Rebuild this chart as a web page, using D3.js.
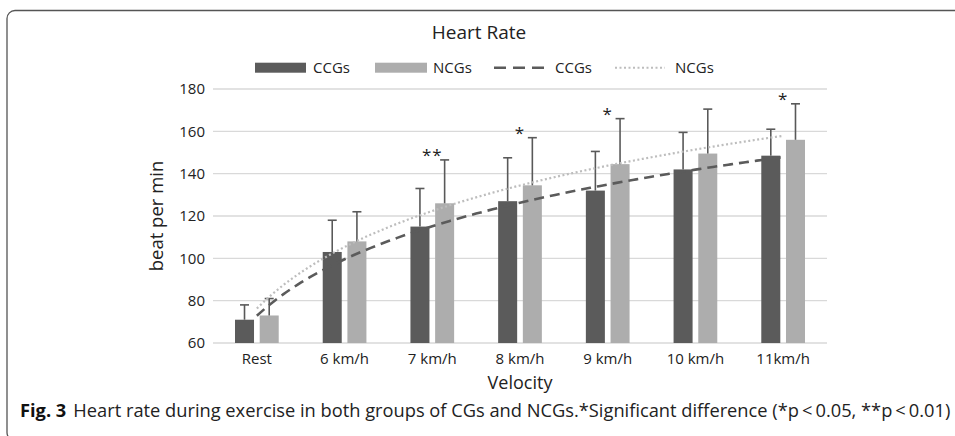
<!DOCTYPE html>
<html>
<head>
<meta charset="utf-8">
<script src="https://cdn.jsdelivr.net/npm/d3@7"></script>
<style>
  body { margin: 0; background: #fff; }
  text { font-family: "Open Sans", sans-serif; fill: #222; }
</style>
</head>
<body>
<svg id="chart" width="955" height="436"></svg>
<script>
// data
const categories = ['Rest', '6 km/h', '7 km/h', '8 km/h', '9 km/h', '10 km/h', '11km/h'];
const groups = ['CCGs', 'NCGs'];
const ccgMean = [71, 103, 115, 127, 132, 142, 148.5];
const ccgSd = [7, 15, 18, 20.5, 18.5, 17.5, 12.5];
const ncgMean = [73, 108, 126, 134.5, 144.5, 149.5, 156];
const ncgSd = [8, 14, 20.5, 22.5, 21.5, 21, 17];
const stars = ['', '', '**', '*', '*', '', '*'];
const yTicks = [60, 80, 100, 120, 140, 160, 180];

const colors = { CCGs: '#5b5b5b', NCGs: '#adadad' };

const svg = d3.select('#chart');
const margin = { top: 89, right: 128, bottom: 93, left: 213 };
const width = 955 - margin.left - margin.right;
const height = 436 - margin.top - margin.bottom;

// frame round the figure
svg.append('rect')
  .attr('x', 7).attr('y', 10.5)
  .attr('width', 1000).attr('height', 430)
  .attr('rx', 8)
  .attr('fill', 'none')
  .attr('stroke', '#555')
  .attr('stroke-width', 1.3);

const g = svg.append('g').attr('transform', `translate(${margin.left},${margin.top})`);

// scales
const x = d3.scaleBand().domain(categories).range([0, width]);
const xIn = d3.scaleBand().domain(groups)
  .range([x.bandwidth() / 2 - 21.85, x.bandwidth() / 2 + 21.85])
  .paddingInner(0.23);
const y = d3.scaleLinear().domain([60, 180]).range([height, 0]);

// gridlines
g.append('g')
  .selectAll('line')
  .data(yTicks)
  .join('line')
  .attr('x1', 0).attr('x2', width)
  .attr('y1', d => y(d)).attr('y2', d => y(d))
  .attr('stroke', '#d9d9d9')
  .attr('stroke-width', 1.4);

// y axis labels
const yAxis = d3.axisLeft(y).tickValues(yTicks).tickSize(0).tickPadding(8);
g.append('g').call(yAxis)
  .call(s => s.select('.domain').remove())
  .selectAll('text')
  .attr('font-size', 15)
  .attr('font-family', '"Open Sans", sans-serif')
  .attr('fill', '#222');

// x axis labels
const xAxis = d3.axisBottom(x).tickSize(0).tickPadding(10);
g.append('g').attr('transform', `translate(0,${height})`).call(xAxis)
  .call(s => s.select('.domain').remove())
  .selectAll('text')
  .attr('font-size', 15)
  .attr('font-family', '"Open Sans", sans-serif')
  .attr('fill', '#222');

// bars
const rows = categories.map((c, i) => ({
  cat: c,
  vals: [
    { key: 'CCGs', mean: ccgMean[i], sd: ccgSd[i] },
    { key: 'NCGs', mean: ncgMean[i], sd: ncgSd[i] }
  ],
  star: stars[i]
}));

const grp = g.selectAll('.grp')
  .data(rows)
  .join('g')
  .attr('class', 'grp')
  .attr('transform', d => `translate(${x(d.cat)},0)`);

grp.selectAll('rect')
  .data(d => d.vals)
  .join('rect')
  .attr('x', d => xIn(d.key))
  .attr('width', xIn.bandwidth())
  .attr('y', d => y(d.mean))
  .attr('height', d => y(60) - y(d.mean))
  .attr('fill', d => colors[d.key]);

// error bars (upper only)
const err = grp.selectAll('.err')
  .data(d => d.vals)
  .join('g')
  .attr('class', 'err')
  .attr('stroke', '#595959')
  .attr('stroke-width', 1.6);
err.append('line')
  .attr('x1', d => xIn(d.key) + xIn.bandwidth() / 2)
  .attr('x2', d => xIn(d.key) + xIn.bandwidth() / 2)
  .attr('y1', d => y(d.mean))
  .attr('y2', d => y(d.mean + d.sd));
err.append('line')
  .attr('x1', d => xIn(d.key) + xIn.bandwidth() / 2 - 4.5)
  .attr('x2', d => xIn(d.key) + xIn.bandwidth() / 2 + 4.5)
  .attr('y1', d => y(d.mean + d.sd))
  .attr('y2', d => y(d.mean + d.sd));

// significance marks
grp.filter(d => d.star)
  .append('text')
  .attr('x', x.bandwidth() / 2)
  .attr('y', d => y(d3.max(d.vals, v => v.mean + v.sd)) + 1)
  .attr('text-anchor', 'middle')
  .attr('font-size', 17)
  .attr('letter-spacing', 1)
  .text(d => d.star);

// logarithmic trendlines fitted to the means (like Excel's)
function logFit(vals) {
  const lx = vals.map((v, i) => Math.log(i + 1));
  const mx = d3.mean(lx), my = d3.mean(vals);
  const a = d3.sum(lx, (l, i) => (l - mx) * (vals[i] - my)) / d3.sum(lx, l => (l - mx) ** 2);
  const b = my - a * mx;
  return t => a * Math.log(t) + b;
}
const xPos = d3.scaleLinear().domain([1, categories.length])
  .range([x(categories[0]) + x.bandwidth() / 2, x(categories[categories.length - 1]) + x.bandwidth() / 2]);
const ts = d3.range(1, categories.length + 0.001, 0.1);
const line = d3.line().x(d => xPos(d[0])).y(d => y(d[1])).curve(d3.curveMonotoneX);

const fitN = logFit(ncgMean);
g.append('path')
  .attr('d', line(ts.map(t => [t, fitN(t)])))
  .attr('fill', 'none')
  .attr('stroke', '#bdbdbd')
  .attr('stroke-width', 2.2)
  .attr('stroke-dasharray', '2,2.5');

const fitC = logFit(ccgMean);
g.append('path')
  .attr('d', line(ts.map(t => [t, fitC(t)])))
  .attr('fill', 'none')
  .attr('stroke', '#5b5b5b')
  .attr('stroke-width', 2.6)
  .attr('stroke-dasharray', '10,6');

// title
svg.append('text')
  .attr('x', 479).attr('y', 38.7)
  .attr('text-anchor', 'middle')
  .attr('font-size', 19)
  .text('Heart Rate');

// legend
const leg = svg.append('g').attr('font-size', 15);
const legY = 67.7;
leg.append('rect').attr('x', 255).attr('y', legY - 5).attr('width', 51).attr('height', 10).attr('fill', colors.CCGs);
leg.append('text').attr('x', 313).attr('y', legY).attr('dy', '0.35em').text('CCGs');
leg.append('rect').attr('x', 375).attr('y', legY - 5).attr('width', 52).attr('height', 10).attr('fill', colors.NCGs);
leg.append('text').attr('x', 433).attr('y', legY).attr('dy', '0.35em').text('NCGs');
leg.append('line').attr('x1', 494).attr('x2', 544).attr('y1', legY).attr('y2', legY)
  .attr('stroke', '#5b5b5b').attr('stroke-width', 2.6).attr('stroke-dasharray', '12,7');
leg.append('text').attr('x', 555).attr('y', legY).attr('dy', '0.35em').text('CCGs');
leg.append('line').attr('x1', 615).attr('x2', 665).attr('y1', legY).attr('y2', legY)
  .attr('stroke', '#bdbdbd').attr('stroke-width', 2).attr('stroke-dasharray', '2,2.5');
leg.append('text').attr('x', 675).attr('y', legY).attr('dy', '0.35em').text('NCGs');

// axis titles
svg.append('text')
  .attr('x', margin.left + width / 2).attr('y', 389)
  .attr('text-anchor', 'middle')
  .attr('font-size', 18)
  .text('Velocity');

svg.append('text')
  .attr('transform', `translate(163,${margin.top + height / 2}) rotate(-90)`)
  .attr('text-anchor', 'middle')
  .attr('font-size', 18.5)
  .text('beat per min');

// caption, sized so it runs from x=20 to x=951
const cap = svg.append('text').attr('x', 20).attr('y', 417).attr('font-size', 13);
cap.append('tspan').attr('font-weight', 'bold').attr('fill', '#111').text('Fig. 3');
cap.append('tspan').attr('dx', 7)
  .text('Heart rate during exercise in both groups of CGs and NCGs.*Significant difference (*p\u2009<\u20090.05, **p\u2009<\u20090.01)');
let fs = 13;
for (let k = 0; k < 3; k++) {
  const w = cap.node().getBBox().width;
  fs = fs * 931 / w;
  cap.attr('font-size', fs);
}
</script>
</body>
</html>
